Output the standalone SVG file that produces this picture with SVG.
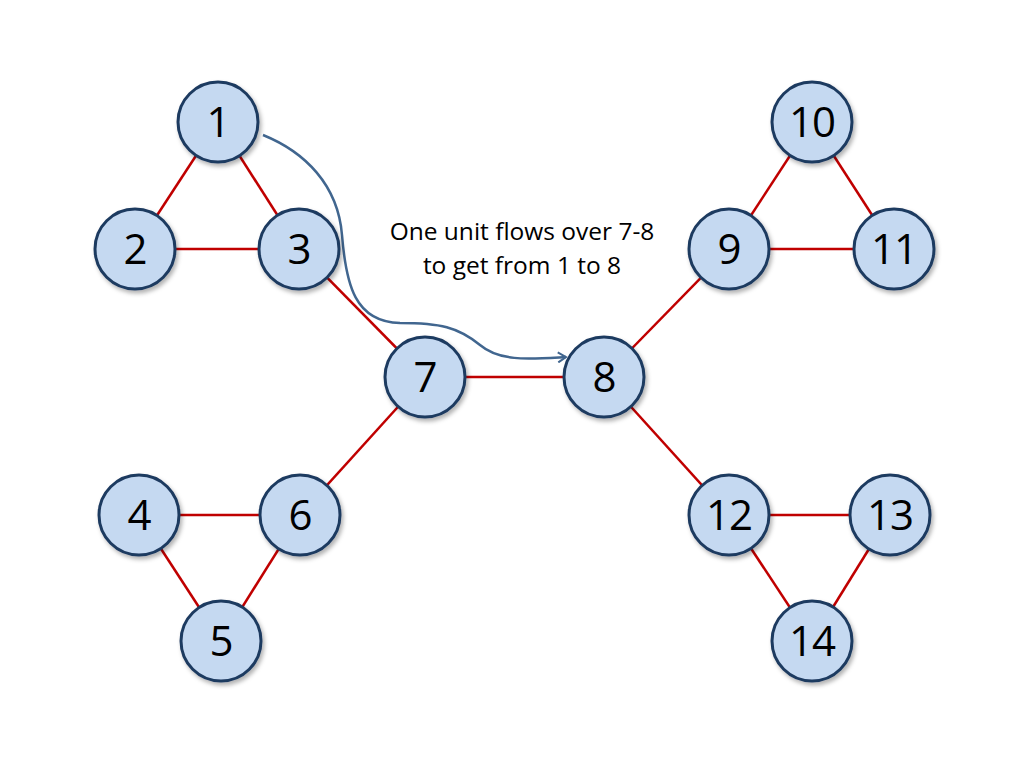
<svg xmlns="http://www.w3.org/2000/svg" width="1024" height="768" viewBox="0 0 1024 768">
<style>
.node circle{fill:#C5D9F1;stroke:#1F3A60;stroke-width:3;filter:url(#sh)}
.node text{font-family:"Open Sans","Liberation Sans",sans-serif;font-size:42px;letter-spacing:-1px;fill:#000;text-anchor:middle}
.edge{stroke:#C00000;stroke-width:2.5}
.lbl{font-family:"Open Sans","Liberation Sans",sans-serif;font-size:24.5px;fill:#000;text-anchor:middle}
</style>
<defs>
<filter id="sh" x="-30%" y="-30%" width="160%" height="160%">
<feDropShadow dx="2" dy="3" stdDeviation="2" flood-color="#000" flood-opacity="0.3"/>
</filter>
<marker id="ah" markerWidth="12" markerHeight="12" refX="10" refY="6" orient="auto" markerUnits="userSpaceOnUse">
<path d="M2,1 L10,6 L2,11" fill="none" stroke="#41668F" stroke-width="2"/>
</marker>
</defs>
<rect width="1024" height="768" fill="#fff"/>
<g id="connectors">
<line class="edge" x1="218" y1="122" x2="135" y2="249"/>
<line class="edge" x1="218" y1="122" x2="299" y2="249"/>
<line class="edge" x1="135" y1="249" x2="299" y2="249"/>
<line class="edge" x1="299" y1="249" x2="425" y2="377"/>
<line class="edge" x1="425" y1="377" x2="604" y2="377"/>
<line class="edge" x1="425" y1="377" x2="300" y2="515"/>
<line class="edge" x1="139" y1="515" x2="300" y2="515"/>
<line class="edge" x1="139" y1="515" x2="221" y2="641"/>
<line class="edge" x1="300" y1="515" x2="221" y2="641"/>
<line class="edge" x1="604" y1="377" x2="729" y2="249"/>
<line class="edge" x1="729" y1="249" x2="812" y2="122"/>
<line class="edge" x1="729" y1="249" x2="894" y2="249"/>
<line class="edge" x1="812" y1="122" x2="894" y2="249"/>
<line class="edge" x1="604" y1="377" x2="729" y2="515"/>
<line class="edge" x1="729" y1="515" x2="890" y2="515"/>
<line class="edge" x1="729" y1="515" x2="812" y2="641"/>
<line class="edge" x1="890" y1="515" x2="812" y2="641"/>
<path id="flow" d="M263,135 C305,152 338,185 342,235 C346,285 355,322 400,323 C440,323 458,327 480,345 C500,362 530,359 566,357" fill="none" stroke="#41668F" stroke-width="2.5" marker-end="url(#ah)"/>
</g>
<g id="n1" class="node"><circle cx="218" cy="122" r="40"/><text x="218" y="137">1</text></g>
<g id="n2" class="node"><circle cx="135" cy="249" r="40"/><text x="135" y="264">2</text></g>
<g id="n3" class="node"><circle cx="299" cy="249" r="40"/><text x="299" y="264">3</text></g>
<g id="n7" class="node"><circle cx="425" cy="377" r="40"/><text x="425" y="392">7</text></g>
<g id="n8" class="node"><circle cx="604" cy="377" r="40"/><text x="604" y="392">8</text></g>
<g id="n4" class="node"><circle cx="139" cy="515" r="40"/><text x="139" y="530">4</text></g>
<g id="n6" class="node"><circle cx="300" cy="515" r="40"/><text x="300" y="530">6</text></g>
<g id="n5" class="node"><circle cx="221" cy="641" r="40"/><text x="221" y="656">5</text></g>
<g id="n10" class="node"><circle cx="812" cy="122" r="40"/><text x="812" y="137">10</text></g>
<g id="n9" class="node"><circle cx="729" cy="249" r="40"/><text x="729" y="264">9</text></g>
<g id="n11" class="node"><circle cx="894" cy="249" r="40"/><text x="894" y="264">11</text></g>
<g id="n12" class="node"><circle cx="729" cy="515" r="40"/><text x="729" y="530">12</text></g>
<g id="n13" class="node"><circle cx="890" cy="515" r="40"/><text x="890" y="530">13</text></g>
<g id="n14" class="node"><circle cx="812" cy="641" r="40"/><text x="812" y="656">14</text></g>
<g id="label">
<text class="lbl" x="522" y="240">One unit flows over 7-8</text>
<text class="lbl" x="522" y="274">to get from 1 to 8</text>
</g>
</svg>
